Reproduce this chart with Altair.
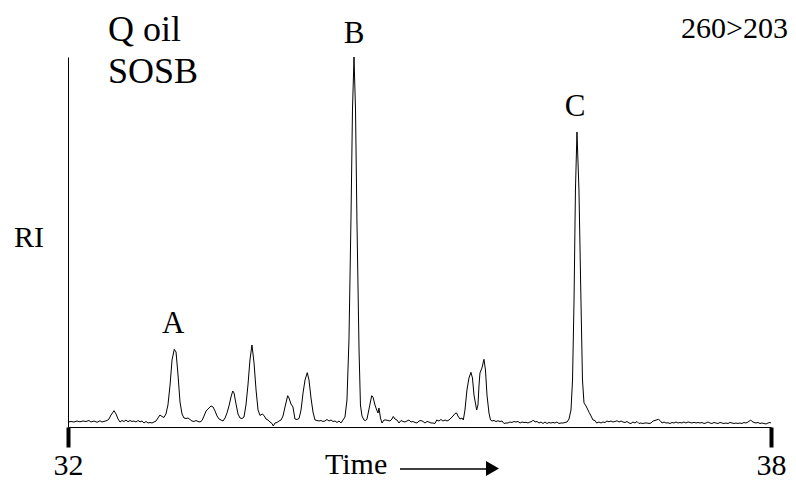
import altair as alt
import pandas as pd

# Retention time (min) and relative intensity (% of peak B)
times = [
    32.000, 32.026, 32.051, 32.077, 32.102, 32.128, 32.154, 32.179, 32.196, 32.222,
    32.248, 32.273, 32.290, 32.307, 32.333, 32.350, 32.367, 32.393, 32.410, 32.427,
    32.444, 32.461, 32.478, 32.495, 32.512, 32.529, 32.546, 32.563, 32.580, 32.597,
    32.615, 32.632, 32.649, 32.666, 32.683, 32.700, 32.717, 32.734, 32.751, 32.768,
    32.785, 32.802, 32.819, 32.836, 32.853, 32.871, 32.888, 32.907, 32.922, 32.939,
    32.956, 32.973, 32.990, 33.007, 33.024, 33.041, 33.058, 33.075, 33.092, 33.110,
    33.127, 33.144, 33.161, 33.178, 33.195, 33.220, 33.238, 33.255, 33.272, 33.289,
    33.306, 33.323, 33.340, 33.357, 33.374, 33.391, 33.406, 33.417, 33.434, 33.451,
    33.468, 33.485, 33.502, 33.519, 33.536, 33.553, 33.570, 33.587, 33.605, 33.622,
    33.639, 33.657, 33.673, 33.690, 33.707, 33.724, 33.741, 33.752, 33.767, 33.784,
    33.801, 33.818, 33.835, 33.852, 33.875, 33.886, 33.903, 33.920, 33.937, 33.954,
    33.972, 33.989, 34.006, 34.023, 34.042, 34.057, 34.074, 34.091, 34.108, 34.125,
    34.142, 34.159, 34.176, 34.193, 34.210, 34.228, 34.245, 34.262, 34.279, 34.296,
    34.313, 34.330, 34.347, 34.364, 34.381, 34.398, 34.415, 34.428, 34.441, 34.454,
    34.466, 34.484, 34.496, 34.509, 34.526, 34.539, 34.552, 34.569, 34.592, 34.603,
    34.620, 34.635, 34.646, 34.654, 34.667, 34.680, 34.697, 34.714, 34.731, 34.748,
    34.765, 34.776, 34.791, 34.808, 34.825, 34.842, 34.859, 34.876, 34.893, 34.910,
    34.927, 34.944, 34.962, 34.979, 34.996, 35.013, 35.030, 35.047, 35.064, 35.081,
    35.098, 35.115, 35.132, 35.147, 35.166, 35.183, 35.200, 35.218, 35.235, 35.252,
    35.269, 35.286, 35.303, 35.317, 35.328, 35.346, 35.363, 35.374, 35.388, 35.405,
    35.422, 35.439, 35.452, 35.465, 35.488, 35.499, 35.508, 35.516, 35.533, 35.550,
    35.563, 35.576, 35.593, 35.606, 35.619, 35.636, 35.653, 35.670, 35.687, 35.704,
    35.721, 35.738, 35.755, 35.772, 35.789, 35.806, 35.823, 35.841, 35.858, 35.875,
    35.892, 35.909, 35.926, 35.943, 35.960, 35.971, 35.986, 36.003, 36.020, 36.037,
    36.054, 36.071, 36.088, 36.105, 36.122, 36.139, 36.156, 36.173, 36.190, 36.208,
    36.225, 36.242, 36.259, 36.276, 36.293, 36.306, 36.319, 36.331, 36.344, 36.361,
    36.378, 36.391, 36.404, 36.421, 36.438, 36.449, 36.464, 36.481, 36.498, 36.512,
    36.532, 36.549, 36.566, 36.583, 36.600, 36.617, 36.634, 36.651, 36.668, 36.686,
    36.703, 36.720, 36.737, 36.754, 36.771, 36.788, 36.805, 36.822, 36.839, 36.856,
    36.873, 36.890, 36.907, 36.924, 36.942, 36.959, 36.976, 36.993, 37.010, 37.038,
    37.053, 37.070, 37.087, 37.104, 37.121, 37.138, 37.155, 37.172, 37.189, 37.206,
    37.223, 37.240, 37.257, 37.274, 37.292, 37.309, 37.326, 37.343, 37.360, 37.377,
    37.394, 37.411, 37.428, 37.445, 37.462, 37.479, 37.496, 37.513, 37.530, 37.547,
    37.565, 37.582, 37.599, 37.616, 37.633, 37.650, 37.667, 37.684, 37.701, 37.718,
    37.735, 37.752, 37.769, 37.786, 37.804, 37.827, 37.838, 37.855, 37.872, 37.889,
    37.906, 37.923, 37.940, 37.957, 37.974, 37.991, 38.000,
]
intensity = [
    1.35, 1.49, 1.35, 1.62, 1.41, 1.62, 1.49, 1.76, 1.35, 1.62,
    1.27, 1.68, 1.35, 1.49, 1.76, 2.16, 3.24, 4.41, 3.51, 2.16,
    1.35, 1.76, 1.49, 1.89, 1.41, 1.76, 1.49, 1.62, 1.35, 1.76,
    1.41, 1.62, 1.08, 1.49, 1.08, 1.22, 1.08, 1.35, 1.62, 2.43,
    3.24, 2.84, 2.57, 3.51, 5.95, 11.35, 18.11, 21.00, 20.27, 14.05,
    6.76, 3.51, 2.43, 2.30, 2.43, 2.03, 1.62, 1.49, 1.76, 1.49,
    1.35, 1.76, 2.97, 4.32, 4.86, 5.68, 5.41, 4.32, 2.97, 2.16,
    1.89, 1.62, 2.43, 3.78, 5.68, 8.11, 9.73, 9.19, 6.22, 3.51,
    2.43, 2.30, 2.70, 5.95, 11.35, 18.11, 22.16, 17.57, 10.00, 4.59,
    3.11, 3.51, 3.11, 2.16, 1.89, 1.35, 0.95, 0.27, 1.08, 1.22,
    1.62, 1.89, 2.97, 5.41, 8.46, 7.84, 6.22, 5.41, 2.16, 2.03,
    2.30, 4.59, 9.19, 12.70, 14.68, 12.70, 7.84, 4.05, 1.89, 1.76,
    1.62, 1.76, 1.49, 1.62, 2.03, 1.62, 1.89, 1.49, 1.62, 1.22,
    1.62, 1.08, 1.89, 2.70, 7.30, 23.51, 55.95, 85.68, 100.00, 85.68,
    55.95, 20.81, 5.95, 2.97, 1.89, 1.71, 2.16, 4.86, 8.46, 8.11,
    5.95, 4.59, 3.78, 5.14, 2.43, 1.08, 1.89, 1.89, 1.76, 1.62,
    2.16, 2.84, 2.16, 1.89, 1.08, 1.76, 1.49, 1.35, 1.62, 1.89,
    1.35, 1.49, 1.22, 1.08, 1.62, 1.76, 1.49, 1.08, 1.49, 1.35,
    1.08, 1.08, 0.95, 1.89, 1.62, 2.03, 1.62, 1.89, 1.62, 1.89,
    2.43, 2.97, 3.65, 3.78, 2.97, 2.16, 2.43, 1.89, 4.59, 10.00,
    13.24, 14.78, 13.24, 8.65, 4.59, 5.95, 11.35, 14.59, 15.95, 18.30,
    15.41, 8.65, 3.78, 1.89, 1.62, 1.76, 1.49, 1.68, 1.49, 1.62,
    0.95, 1.08, 1.08, 1.35, 1.22, 1.49, 1.35, 1.49, 1.08, 1.35,
    1.22, 1.27, 1.08, 1.35, 1.49, 1.89, 1.35, 1.49, 1.08, 1.35,
    0.95, 1.35, 0.95, 1.22, 1.08, 1.22, 1.08, 1.35, 0.95, 1.08,
    1.08, 1.22, 1.35, 2.16, 4.59, 12.70, 34.32, 64.05, 79.73, 64.05,
    34.32, 12.70, 6.49, 5.68, 4.59, 3.86, 2.97, 1.89, 1.76, 1.08,
    1.35, 1.08, 1.35, 1.22, 1.62, 1.41, 1.62, 1.35, 1.49, 1.68,
    1.35, 1.62, 1.35, 1.22, 1.49, 1.08, 0.95, 1.35, 1.08, 1.49,
    0.95, 1.08, 0.95, 1.08, 1.08, 0.95, 1.08, 1.62, 1.76, 2.08,
    1.76, 1.08, 1.35, 1.08, 1.14, 0.95, 1.22, 1.08, 1.35, 1.08,
    1.22, 1.08, 1.35, 1.08, 1.35, 1.22, 1.08, 1.27, 1.08, 1.22,
    1.08, 1.22, 0.95, 1.08, 1.35, 1.08, 0.95, 1.22, 1.08, 0.95,
    1.22, 1.08, 0.95, 1.08, 0.95, 1.22, 1.08, 0.95, 1.08, 0.95,
    1.08, 0.95, 1.22, 1.08, 1.35, 1.89, 1.49, 1.22, 1.08, 1.22,
    0.95, 1.08, 0.95, 0.81, 1.08, 1.22, 1.08,
]

# Peak labels
peak_labels = ["A", "B", "C"]
peak_label_times = [32.898, 34.441, 36.327]
peak_label_heights = [25.3, 103.9, 84.0]

x_ticks = [32, 38]

FONT = "Times New Roman, Liberation Serif, Tinos, DejaVu Serif, serif"

trace = pd.DataFrame({"time": times, "ri": intensity})
labels = pd.DataFrame({"label": peak_labels, "time": peak_label_times, "ri": peak_label_heights})

x_enc = alt.X(
    "time:Q",
    scale=alt.Scale(domain=[32, 38], nice=False, zero=False),
    axis=alt.Axis(
        values=x_ticks, title=None, grid=False,
        domainColor="black", domainWidth=1,
        tickColor="black", tickSize=20, tickWidth=4,
        labelFont=FONT, labelFontSize=30, labelColor="black",
        labelPadding=27, labelBaseline="alphabetic", labelFlush=False,
        format="d",
    ),
)
y_enc = alt.Y(
    "ri:Q",
    scale=alt.Scale(domain=[0, 100], nice=False),
    axis=alt.Axis(title=None, grid=False, labels=False, ticks=False,
                  domainColor="black", domainWidth=1),
)

line = alt.Chart(trace).mark_line(color="black", strokeWidth=1).encode(x=x_enc, y=y_enc)

peak_text = alt.Chart(labels).mark_text(
    font=FONT, fontSize=31, color="black", baseline="alphabetic", align="center"
).encode(x="time:Q", y="ri:Q", text="label:N")


def note(txt, x, y, size, align="left"):
    return alt.Chart(pd.DataFrame({"t": [txt]})).mark_text(
        font=FONT, fontSize=size, color="black", baseline="alphabetic", align=align
    ).encode(text="t:N", x=alt.value(x), y=alt.value(y))


t1 = note("Q oil", 40, -16, 36)
t2 = note("SOSB", 40, 26, 36)
t3 = note("260>203", 720, -19, 30, align="right")
t4 = note("RI", -54, 190, 30)
t5 = note("Time", 257, 417, 30)

arrow_line = alt.Chart(pd.DataFrame({"a": [0]})).mark_rule(color="black", strokeWidth=1.5).encode(
    x=alt.value(332), x2=alt.value(419), y=alt.value(412)
)
arrow_head = alt.Chart(pd.DataFrame({"a": [0]})).mark_point(
    shape="triangle-right", filled=True, size=225, color="black", opacity=1
).encode(x=alt.value(424.5), y=alt.value(411.5))

chart = alt.layer(line, peak_text, t1, t2, t3, t4, t5, arrow_line, arrow_head).properties(
    width=703, height=370,
    autosize=alt.AutoSizeParams(type="none"),
    padding={"left": 60, "top": 49, "right": 17, "bottom": 54},
    background="white",
).configure_view(stroke=None)

chart.save("out.html", embed_options={"renderer": "svg", "actions": False})
